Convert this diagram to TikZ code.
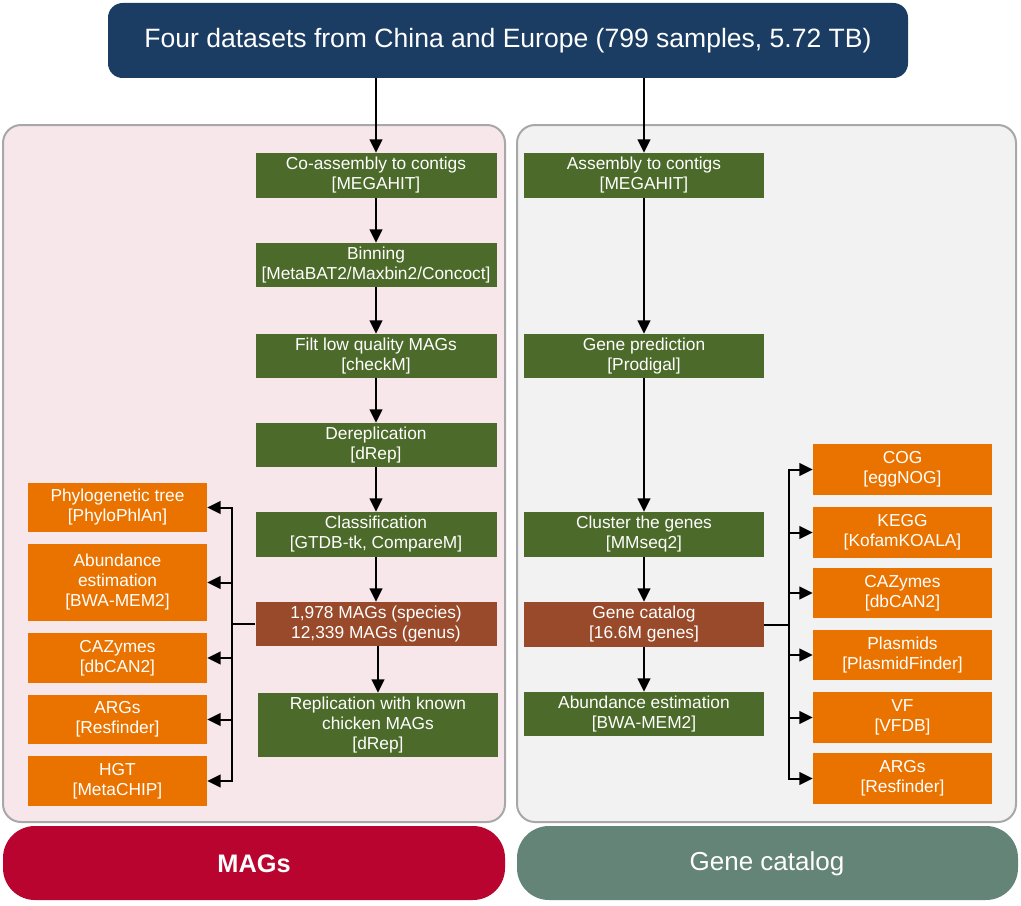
\documentclass[tikz,border=0pt]{standalone}
\usepackage{fontspec}
\setmainfont{Liberation Sans}
\usepackage{xcolor}
\usetikzlibrary{arrows.meta}

\definecolor{topblue}{HTML}{1B3D63}
\definecolor{stepgreen}{HTML}{4C6A2A}
\definecolor{resbrown}{HTML}{984A2A}
\definecolor{annoorange}{HTML}{EA7300}
\definecolor{magspink}{HTML}{F8E7EA}
\definecolor{genegray}{HTML}{F1F2F1}
\definecolor{panelline}{HTML}{A8A8A8}
\definecolor{magsred}{HTML}{B8042E}
\definecolor{genegreen}{HTML}{638477}

\begin{document}
\begin{tikzpicture}[x=0.75pt, y=-0.75pt,
    wh/.style 2 args={minimum width=#1*0.75pt, minimum height=#2*0.75pt},
    box/.style={text=white, align=center, inner sep=0pt, font=\fontsize{13}{15}\selectfont},
    stepbox/.style={box, fill=stepgreen},
    resbox/.style={box, fill=resbrown},
    annobox/.style={box, fill=annoorange},
    panel/.style={draw=panelline, line width=1.5pt, rounded corners=13.5pt},
    arr/.style={-{Triangle[length=10pt,width=9.5pt]}, line width=1.5pt}
]

    % canvas
    \useasboundingbox (0,0) rectangle (1021,906);

    % panels and footers
    \draw[panel, fill=magspink] (3,125) rectangle (505,822);
    \draw[panel, fill=genegray] (517,125) rectangle (1016,822);
    \fill[magsred, rounded corners=24pt] (3,826) rectangle (505,900);
    \fill[genegreen, rounded corners=24pt] (517,826) rectangle (1018,900);
    \node[text=white, font=\fontsize{19}{22}\selectfont\bfseries] (magslbl) at (254,864) {MAGs};
    \node[text=white, font=\fontsize{19.5}{22}\selectfont] (genelbl) at (767,864) {Gene catalog};

    % source data
    \node[box, fill=topblue, wh={800}{75}, rounded corners=11pt,
          font=\fontsize{19.9}{24}\selectfont] (src) at (508,40.5)
          {Four datasets from China and Europe (799 samples, 5.72 TB)};

    % MAGs branch
    \node[stepbox, wh={241}{45}] (coasm) at (376,175.5) {Co-assembly to contigs\\{}[MEGAHIT]};
    \node[stepbox, wh={241}{44}] (bin) at (376,265) {Binning\\{}[MetaBAT2/Maxbin2/Concoct]};
    \node[stepbox, wh={241}{44}] (filt) at (376,356) {Filt low quality MAGs\\{}[checkM]};
    \node[stepbox, wh={241}{44}] (derep) at (376,445) {Dereplication\\{}[dRep]};
    \node[stepbox, wh={241}{45}] (classif) at (376,534.5) {Classification\\{}[GTDB-tk, CompareM]};
    \node[resbox, wh={241}{44}] (mags) at (376,624) {1,978 MAGs (species)\\12,339 MAGs (genus)};
    \node[stepbox, wh={240}{64}] (repl) at (378,725) {Replication with known\\chicken MAGs\\{}[dRep]};

    % MAGs annotations
    \node[annobox, wh={179}{49}] (phylo) at (117.5,507.5) {Phylogenetic tree\\{}[PhyloPhlAn]};
    \node[annobox, wh={179}{77}] (abundm) at (117.5,582.5) {Abundance\\estimation\\{}[BWA-MEM2]};
    \node[annobox, wh={179}{50}] (cazym) at (117.5,658) {CAZymes\\{}[dbCAN2]};
    \node[annobox, wh={179}{49}] (argsm) at (117.5,719.5) {ARGs\\{}[Resfinder]};
    \node[annobox, wh={179}{50}] (hgt) at (117.5,781) {HGT\\{}[MetaCHIP]};

    % gene catalog branch
    \node[stepbox, wh={240}{45}] (asm) at (644,175.5) {Assembly to contigs\\{}[MEGAHIT]};
    \node[stepbox, wh={240}{44}] (pred) at (644,356) {Gene prediction\\{}[Prodigal]};
    \node[stepbox, wh={240}{45}] (clust) at (644,534.5) {Cluster the genes\\{}[MMseq2]};
    \node[resbox, wh={240}{45}] (gcat) at (644,624.5) {Gene catalog\\{}[16.6M genes]};
    \node[stepbox, wh={240}{44}] (abundg) at (644,714) {Abundance estimation\\{}[BWA-MEM2]};

    % gene catalog annotations
    \node[annobox, wh={179}{51}] (cog) at (902.5,469.5) {COG\\{}[eggNOG]};
    \node[annobox, wh={179}{51}] (kegg) at (902.5,532.5) {KEGG\\{}[KofamKOALA]};
    \node[annobox, wh={179}{50}] (cazyg) at (902.5,593) {CAZymes\\{}[dbCAN2]};
    \node[annobox, wh={179}{50}] (plas) at (902.5,655) {Plasmids\\{}[PlasmidFinder]};
    \node[annobox, wh={179}{51}] (vf) at (902.5,717.5) {VF\\{}[VFDB]};
    \node[annobox, wh={179}{51}] (argsg) at (902.5,778.5) {ARGs\\{}[Resfinder]};

    % main flow
    \draw[arr] (src.south -| coasm) -- (coasm);
    \draw[arr] (coasm) -- (bin);
    \draw[arr] (bin) -- (filt);
    \draw[arr] (filt) -- (derep);
    \draw[arr] (derep) -- (classif);
    \draw[arr] (classif) -- (mags);
    \draw[arr] (mags.south -| repl) -- (repl);

    \draw[arr] (src.south -| asm) -- (asm);
    \draw[arr] (asm) -- (pred);
    \draw[arr] (pred) -- (clust);
    \draw[arr] (clust) -- (gcat);
    \draw[arr] (gcat) -- (abundg);

    % fan out to annotations
    \draw[line width=1.5pt] (mags.west) -- (232,624) coordinate (mfan);
    \foreach \t in {phylo,abundm,cazym,argsm,hgt}
        \draw[arr] (mfan) |- (\t.east);

    \draw[line width=1.5pt] (gcat.east) -- (789,624.5) coordinate (gfan);
    \foreach \t in {cog,kegg,cazyg,plas,vf,argsg}
        \draw[arr] (gfan) |- (\t.west);

\end{tikzpicture}
\end{document}
